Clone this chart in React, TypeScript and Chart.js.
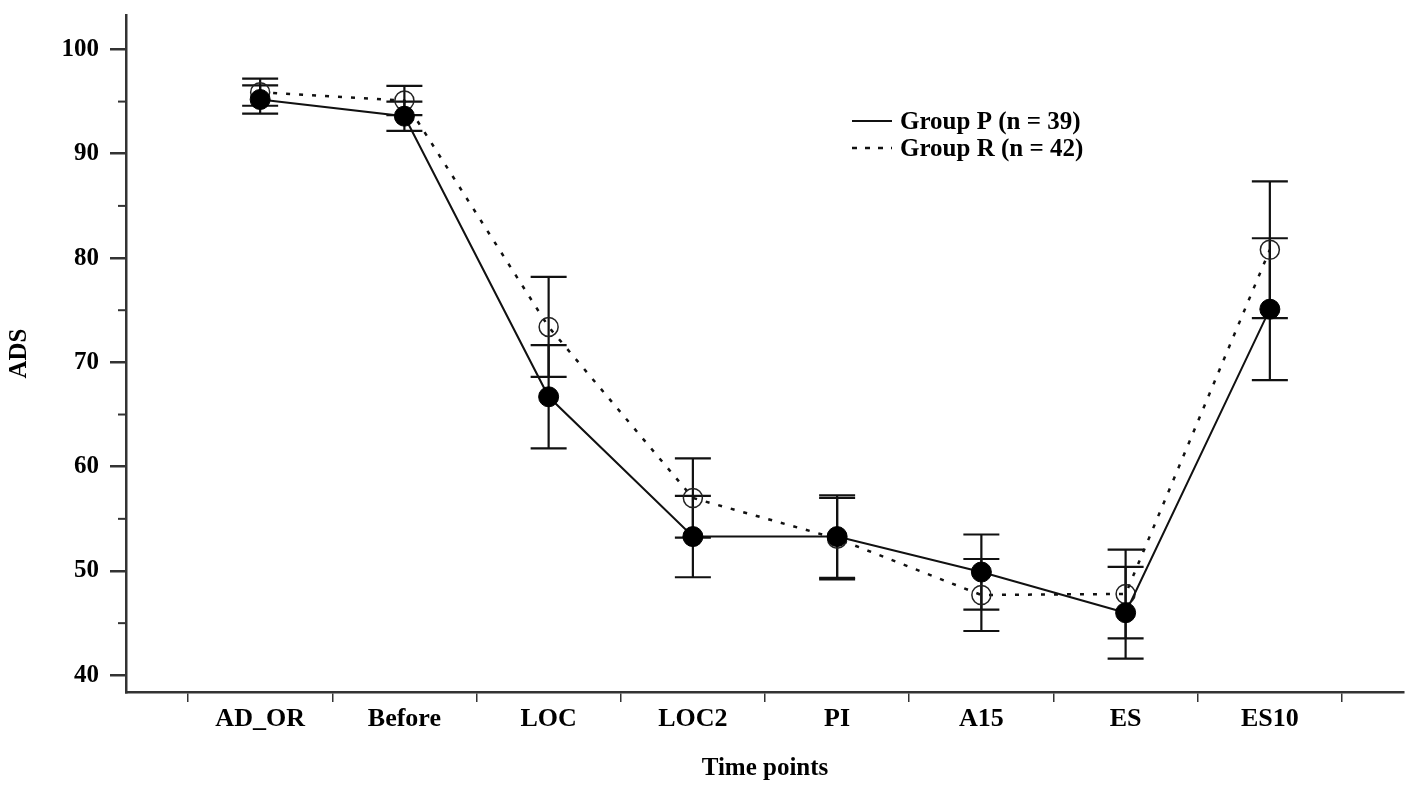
import React, { useEffect, useRef } from 'react'
import { Chart, registerables } from 'chart.js'

Chart.register(...registerables)

const categories = ['AD_OR', 'Before', 'LOC', 'LOC2', 'PI', 'A15', 'ES', 'ES10']
const groupPMeans = [95.2, 93.6, 66.7, 53.3, 53.3, 49.9, 46.0, 75.1]
const groupPErrors = [1.35, 1.4, 4.95, 3.9, 3.95, 3.6, 4.4, 6.8]
const groupRMeans = [95.9, 95.1, 73.4, 57.0, 53.1, 47.7, 47.8, 80.8]
const groupRErrors = [1.3, 1.4, 4.8, 3.8, 3.9, 3.45, 4.25, 6.55]
const seriesLabels = ['Group P (n = 39)', 'Group R (n = 42)']
const yMajorTicks = [40, 50, 60, 70, 80, 90, 100]
const yMinorTicks = [45, 55, 65, 75, 85, 95]

const FONT = '"Liberation Serif", "Times New Roman", serif'
const INK = '#111'
const AXIS = '#333'

// vertical bars with caps, drawn under the markers
const errorBars = {
    id: 'errorBars',
    beforeDatasetsDraw(chart: any) {
        const { ctx, scales: { x, y } } = chart
        const errs = [groupPErrors, groupRErrors]
        ctx.save()
        ctx.strokeStyle = INK
        ctx.lineWidth = 2.2
        chart.data.datasets.forEach((ds: any, di: number) => {
            ds.data.forEach((pt: any, i: number) => {
                const px = x.getPixelForValue(pt.x)
                const top = y.getPixelForValue(pt.y + errs[di][i])
                const bot = y.getPixelForValue(pt.y - errs[di][i])
                ctx.beginPath()
                ctx.moveTo(px, top)
                ctx.lineTo(px, bot)
                ctx.moveTo(px - 18, top)
                ctx.lineTo(px + 18, top)
                ctx.moveTo(px - 18, bot)
                ctx.lineTo(px + 18, bot)
                ctx.stroke()
            })
        })
        ctx.restore()
    },
}

const minorTicks = {
    id: 'minorTicks',
    afterDraw(chart: any) {
        const { ctx, chartArea, scales: { y } } = chart
        ctx.save()
        ctx.strokeStyle = AXIS
        ctx.lineWidth = 2
        yMinorTicks.forEach((v) => {
            const py = y.getPixelForValue(v)
            ctx.beginPath()
            ctx.moveTo(chartArea.left - 8, py)
            ctx.lineTo(chartArea.left, py)
            ctx.stroke()
        })
        ctx.restore()
    },
}

const insideLegend = {
    id: 'insideLegend',
    afterDraw(chart: any) {
        const { ctx, chartArea } = chart
        const x0 = chartArea.left + 726
        const rows = [chartArea.top + 114, chartArea.top + 141]
        ctx.save()
        ctx.font = 'bold 25px ' + FONT
        ctx.fillStyle = '#000'
        ctx.textBaseline = 'alphabetic'
        chart.data.datasets.forEach((ds: any, i: number) => {
            const base = rows[i]
            ctx.strokeStyle = INK
            ctx.lineWidth = ds.borderWidth
            ctx.setLineDash(i === 0 ? [] : [5, 8])
            ctx.beginPath()
            ctx.moveTo(x0, base - 8)
            ctx.lineTo(x0 + 40, base - 8)
            ctx.stroke()
            ctx.fillText(ds.label, x0 + 48, base)
        })
        ctx.restore()
    },
}

export default function App() {
    const canvasRef = useRef<HTMLCanvasElement>(null)

    useEffect(() => {
        const xTicks = categories
            .flatMap((_, i) => [{ value: i + 0.5 }, { value: i + 1 }])
            .concat([{ value: categories.length + 0.5 }])

        const chart = new Chart(canvasRef.current!, {
            type: 'line',
            data: {
                datasets: [
                    {
                        label: seriesLabels[0],
                        data: groupPMeans.map((v, i) => ({ x: i + 1, y: v })),
                        borderColor: INK,
                        borderWidth: 2,
                        pointRadius: 10,
                        pointBackgroundColor: '#000',
                        pointBorderColor: '#000',
                        pointBorderWidth: 1,
                        tension: 0,
                    },
                    {
                        label: seriesLabels[1],
                        data: groupRMeans.map((v, i) => ({ x: i + 1, y: v })),
                        borderColor: INK,
                        borderWidth: 2.5,
                        borderDash: [4, 9],
                        pointRadius: 9.5,
                        pointBackgroundColor: 'rgba(0,0,0,0)',
                        pointBorderColor: '#222',
                        pointBorderWidth: 1.5,
                        tension: 0,
                    },
                ],
            },
            options: {
                animation: false,
                responsive: true,
                maintainAspectRatio: false,
                events: [],
                layout: { padding: { top: 15, right: 14, left: 0, bottom: 0 } },
                plugins: {
                    legend: { display: false },
                    tooltip: { enabled: false },
                },
                scales: {
                    x: {
                        type: 'linear',
                        min: 0.07,
                        max: 8.93,
                        afterBuildTicks: (s: any) => { s.ticks = xTicks },
                        afterFit: (s: any) => {
                            s.height = 99
                            s.paddingLeft = 0
                            s.paddingRight = 0
                        },
                        ticks: {
                            autoSkip: false,
                            maxRotation: 0,
                            padding: 2,
                            color: '#000',
                            font: { family: FONT, size: 26, weight: 'bold' },
                            callback: (v: any) => (Number.isInteger(v) ? categories[v - 1] : ''),
                        },
                        grid: {
                            drawOnChartArea: false,
                            drawTicks: true,
                            tickLength: 10,
                            lineWidth: 1.5,
                            color: (c: any) => (Number.isInteger(c.tick?.value) ? 'rgba(0,0,0,0)' : AXIS),
                        },
                        border: { display: true, color: AXIS, width: 2.5 },
                        title: {
                            display: true,
                            text: 'Time points',
                            color: '#000',
                            font: { family: FONT, size: 25, weight: 'bold' },
                            padding: { top: 0, bottom: 7 },
                        },
                    },
                    y: {
                        type: 'linear',
                        min: 38.4,
                        max: 103.3,
                        afterBuildTicks: (s: any) => { s.ticks = yMajorTicks.map((v) => ({ value: v })) },
                        afterFit: (s: any) => {
                            s.width = 126
                            s.paddingTop = 0
                            s.paddingBottom = 0
                        },
                        ticks: {
                            padding: 11,
                            color: '#000',
                            font: { family: FONT, size: 25, weight: 'bold' },
                        },
                        grid: {
                            drawOnChartArea: false,
                            drawTicks: true,
                            tickLength: 16,
                            lineWidth: 2.5,
                            color: AXIS,
                        },
                        border: { display: true, color: AXIS, width: 2.5 },
                        title: {
                            display: true,
                            text: 'ADS',
                            color: '#000',
                            font: { family: FONT, size: 25, weight: 'bold' },
                            padding: { top: 5, bottom: 0 },
                        },
                    },
                },
            },
            plugins: [errorBars, minorTicks, insideLegend],
        })

        return () => {
            chart.destroy()
        }
    }, [])

    return (
        <div style={{ position: 'absolute', left: 0, top: 0, width: 1418, height: 791, background: '#fff' }}>
            <canvas ref={canvasRef}></canvas>
        </div>
    )
}
